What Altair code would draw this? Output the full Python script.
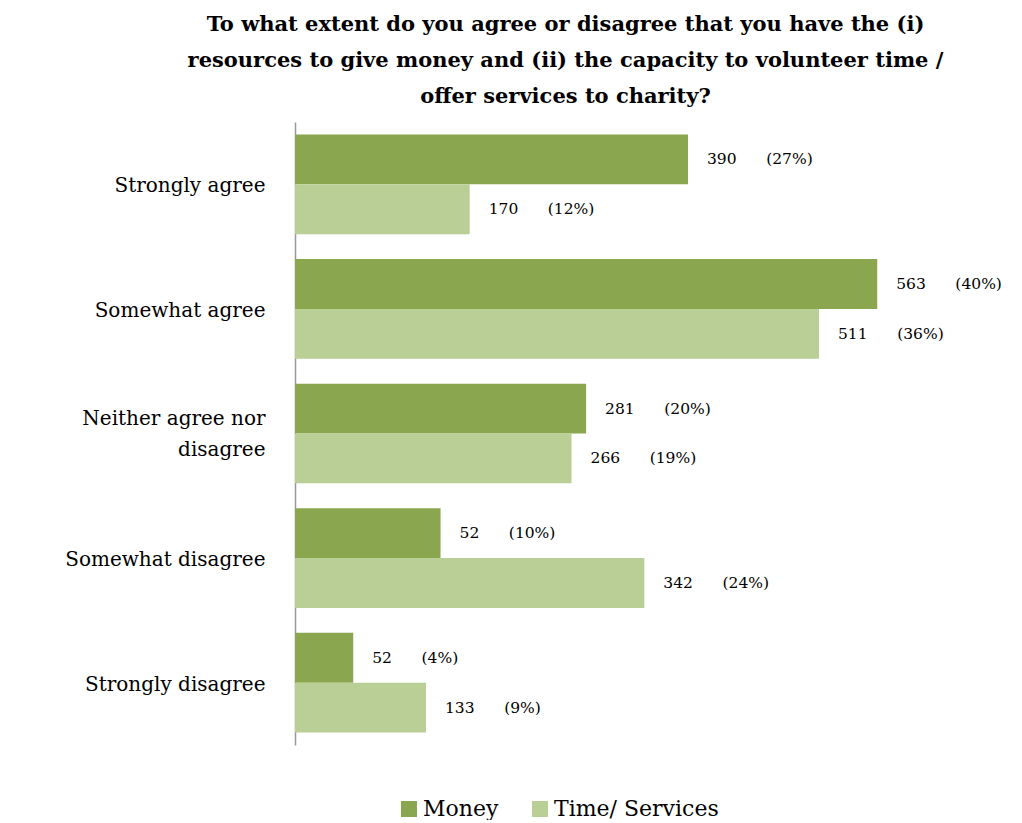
import altair as alt
import pandas as pd

categories = ["Strongly agree", "Somewhat agree", "Neither agree nor disagree",
              "Somewhat disagree", "Strongly disagree"]
series = ["Money", "Time/ Services"]
money_counts = [390, 563, 281, 52, 52]
money_pct = [27, 40, 20, 10, 4]
time_counts = [170, 511, 266, 342, 133]
time_pct = [12, 36, 19, 24, 9]
colors = ["#8aa64e", "#b9cf95"]
title_lines = [
    "To what extent do you agree or disagree that you have the (i)",
    "resources to give money and (ii) the capacity to volunteer time /",
    "offer services to charity?",
]

rows = []
for i, c in enumerate(categories):
    rows.append(dict(cat=c, series=series[0], pct=money_pct[i], count=money_counts[i]))
    rows.append(dict(cat=c, series=series[1], pct=time_pct[i], count=time_counts[i]))
df = pd.DataFrame(rows)
df["label"] = df["count"].astype(str) + "\u00a0" * 6 + "(" + df["pct"].astype(str) + "%)"

FONT = "DejaVu Serif"

y = alt.Y(
    "cat:N", sort=categories,
    scale=alt.Scale(paddingInner=0.2, paddingOuter=0.1),
    axis=alt.Axis(
        title=None, domain=True, domainColor="#999999", domainWidth=1.5,
        ticks=False, labelFont=FONT, labelFontSize=20, labelColor="black",
        labelPadding=30, minExtent=287, maxExtent=287, labelLimit=300,
        labelLineHeight=31,
        labelOffset={"condition": {"test": "datum.value == 'Neither agree nor disagree'", "value": -15}, "value": 2},
        labelExpr="datum.value == 'Neither agree nor disagree' ? ['Neither agree nor', 'disagree'] : datum.value",
    ),
)
yoff = alt.YOffset("series:N", sort=series, scale=alt.Scale(paddingInner=0, paddingOuter=0))
x = alt.X("pct:Q", scale=alt.Scale(domain=[0, 45]), axis=None)

base = alt.Chart(df).encode(y=y, yOffset=yoff, x=x)

bars = base.mark_bar().encode(
    color=alt.Color(
        "series:N", sort=series,
        scale=alt.Scale(domain=series, range=colors),
        legend=alt.Legend(
            title=None, orient="none", legendX=103, legendY=676,
            direction="horizontal", symbolType="square", symbolSize=256,
            symbolStrokeWidth=0, labelFont=FONT, labelFontSize=22,
            labelColor="black", columnPadding=30, labelOffset=3,
            labelLimit=400,
        ),
    )
)
labels = base.mark_text(
    align="left", baseline="middle", dx=19, font=FONT, fontSize=15.5, color="black"
).encode(text="label:N")

chart = alt.layer(bars, labels).properties(
    width=655, height=623,
    padding={"left": 0, "top": 6, "right": 0, "bottom": 0},
    title=alt.TitleParams(
        text=title_lines, font=FONT, fontSize=21, fontWeight="bold",
        lineHeight=36, anchor="middle", dx=-57, offset=15, color="black",
    ),
).configure_view(stroke=None)

chart.save("out.html", embed_options={"renderer": "svg", "actions": False})
